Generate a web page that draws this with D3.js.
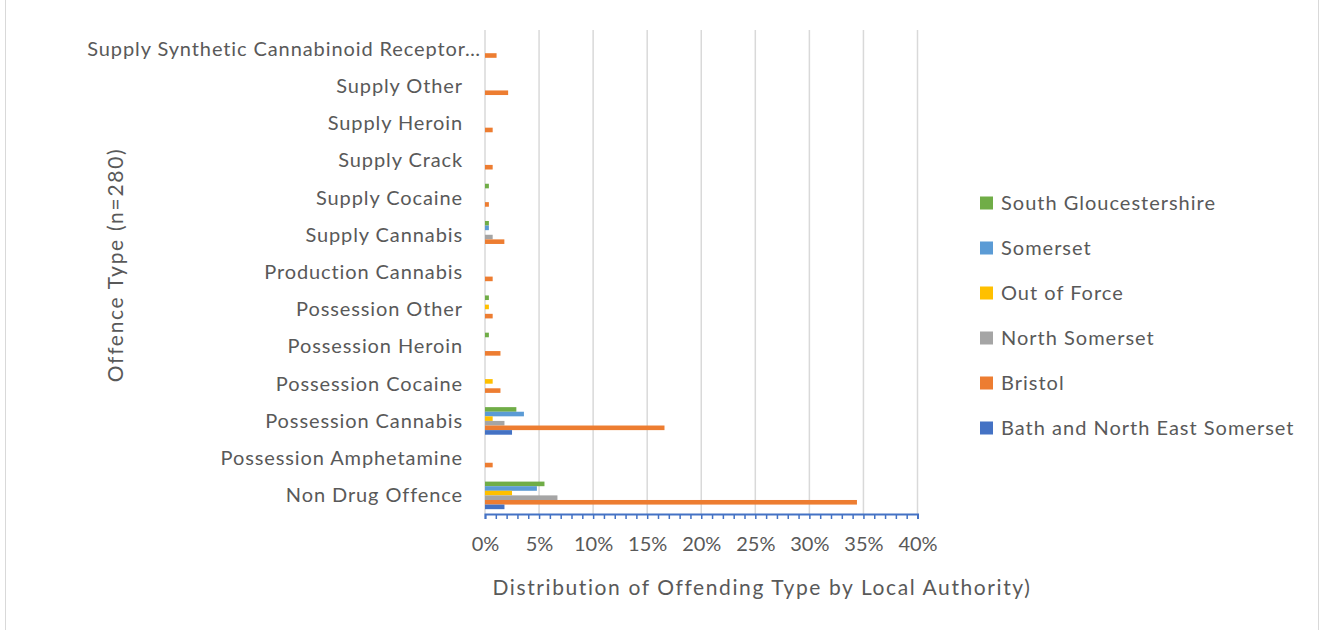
<!DOCTYPE html>
<html>
<head>
<meta charset="utf-8">
<script src="https://cdn.jsdelivr.net/npm/d3@7"></script>
<style>
  body { margin: 0; background: #fff; }
  text { font-family: Lato, "Liberation Sans", sans-serif; fill: #595959; }
</style>
</head>
<body>
<script>
// chart size
var w = 1322;
var h = 630;

// offence types, bottom to top
var categories = ["Non Drug Offence", "Possession Amphetamine", "Possession Cannabis", "Possession Cocaine",
  "Possession Heroin", "Possession Other", "Production Cannabis", "Supply Cannabis", "Supply Cocaine",
  "Supply Crack", "Supply Heroin", "Supply Other", "Supply Synthetic Cannabinoid Receptor…"];

// series names (legend order, top to bottom)
var seriesNames = ["South Gloucestershire", "Somerset", "Out of Force", "North Somerset", "Bristol", "Bath and North East Somerset"];
var seriesColors = ["#70AD47", "#5B9BD5", "#FFC000", "#A5A5A5", "#ED7D31", "#4472C4"];

// percent values per category
var southGlos = [5.5, 0, 2.9, 0, 0.36, 0.36, 0, 0.36, 0.36, 0, 0, 0, 0];
var somerset = [4.8, 0, 3.6, 0, 0, 0, 0, 0.36, 0, 0, 0, 0, 0];
var outOfForce = [2.5, 0, 0.71, 0.71, 0, 0.36, 0, 0, 0, 0, 0, 0, 0];
var northSomerset = [6.7, 0, 1.8, 0, 0, 0, 0, 0.71, 0, 0, 0, 0, 0];
var bristol = [34.4, 0.71, 16.6, 1.43, 1.43, 0.71, 0.71, 1.79, 0.36, 0.71, 0.71, 2.14, 1.07];
var bath = [1.8, 0, 2.5, 0, 0, 0, 0, 0, 0, 0, 0, 0, 0];
var seriesValues = [southGlos, somerset, outOfForce, northSomerset, bristol, bath];

var xTicks = [0, 5, 10, 15, 20, 25, 30, 35, 40];

// plot area
var plotLeft = 485, plotRight = 917.5, plotTop = 30, plotBottom = 514;

var svg = d3.select("body").append("svg")
  .attr("width", w)
  .attr("height", h);

// outer frame lines
svg.append("line").attr("x1", 5.5).attr("x2", 5.5).attr("y1", 0).attr("y2", h)
  .attr("stroke", "#d9d9d9").attr("stroke-width", 1);
svg.append("line").attr("x1", 1318.5).attr("x2", 1318.5).attr("y1", 0).attr("y2", h)
  .attr("stroke", "#d9d9d9").attr("stroke-width", 1);

var x = d3.scaleLinear().domain([0, 40]).range([plotLeft, plotRight]);

var y = d3.scaleBand()
  .domain(categories.slice().reverse())
  .range([plotTop, plotBottom]);

var inner = d3.scaleBand()
  .domain(seriesNames)
  .range([0, y.bandwidth()])
  .paddingOuter(1.05);

// gridlines
svg.selectAll("line.grid")
  .data(xTicks)
  .enter()
  .append("line")
  .attr("class", "grid")
  .attr("x1", function(d) { return x(d); })
  .attr("x2", function(d) { return x(d); })
  .attr("y1", plotTop)
  .attr("y2", plotBottom)
  .attr("stroke", "#d9d9d9")
  .attr("stroke-width", 1.5);

// bars
seriesNames.forEach(function(name, s) {
  svg.append("g")
    .selectAll("rect")
    .data(seriesValues[s])
    .enter()
    .append("rect")
    .attr("x", x(0))
    .attr("y", function(d, i) { return y(categories[i]) + inner(name); })
    .attr("width", function(d) { return x(d) - x(0); })
    .attr("height", inner.bandwidth())
    .attr("fill", seriesColors[s]);
});

// minor ticks on the x axis
var minor = svg.append("g")
  .attr("transform", "translate(0," + plotBottom + ")")
  .call(d3.axisBottom(x).tickValues(d3.range(0, 41, 1)).tickSize(5).tickFormat(""));
minor.select(".domain").attr("stroke", "#4472C4").attr("stroke-width", 2);
minor.selectAll(".tick line").attr("stroke", "#4472C4").attr("stroke-width", 1.5);

// tick labels
var xAxis = svg.append("g")
  .attr("transform", "translate(0," + plotBottom + ")")
  .call(d3.axisBottom(x).tickValues(xTicks).tickSize(0).tickPadding(23)
    .tickFormat(function(d) { return d + "%"; }));
xAxis.select(".domain").remove();
xAxis.selectAll("text").style("font-size", "20px").attr("fill", "#595959")
  .style("font-family", "Lato, sans-serif");

// category labels
svg.selectAll("text.cat")
  .data(categories)
  .enter()
  .append("text")
  .attr("class", "cat")
  .attr("x", function(d) { return d.slice(-1) == "…" ? 481 : 463; })
  .attr("y", function(d) { return y(d) + y.bandwidth() / 2; })
  .attr("dy", "0.35em")
  .attr("text-anchor", "end")
  .style("font-size", "20px")
  .style("letter-spacing", "0.9px")
  .text(function(d) { return d; });

// axis titles
svg.append("text")
  .attr("x", 762)
  .attr("y", 588)
  .attr("dy", "0.35em")
  .attr("text-anchor", "middle")
  .style("font-size", "21px")
  .style("letter-spacing", "1.6px")
  .text("Distribution of Offending Type by Local Authority)");

svg.append("text")
  .attr("transform", "translate(116,265) rotate(-90)")
  .attr("dy", "0.35em")
  .attr("text-anchor", "middle")
  .style("font-size", "21px")
  .style("letter-spacing", "1.7px")
  .text("Offence Type (n=280)");

// legend
var legend = svg.selectAll("g.leg")
  .data(seriesNames)
  .enter()
  .append("g")
  .attr("class", "leg")
  .attr("transform", function(d, i) { return "translate(980," + (203 + i * 45) + ")"; });

legend.append("rect")
  .attr("x", 0)
  .attr("y", -6.5)
  .attr("width", 13)
  .attr("height", 13)
  .attr("fill", function(d, i) { return seriesColors[i]; });

legend.append("text")
  .attr("x", 21)
  .attr("dy", "0.35em")
  .style("font-size", "20px")
  .style("letter-spacing", "1px")
  .text(function(d) { return d; });
</script>
</body>
</html>
